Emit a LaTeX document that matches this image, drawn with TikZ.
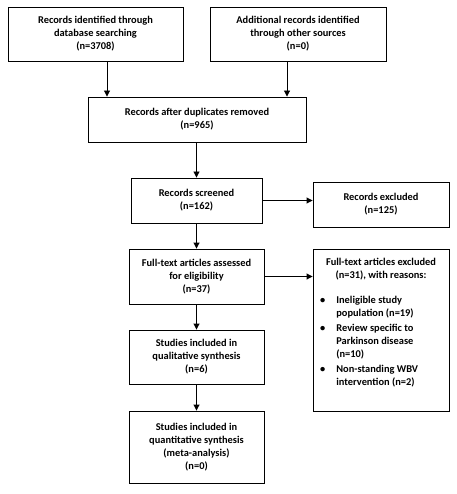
\documentclass[tikz,border=0pt]{standalone}
\usepackage{fontspec}
\setmainfont{Carlito}
\usetikzlibrary{arrows.meta}
\begin{document}
\begin{tikzpicture}[x=1pt,y=-1pt,
  font=\fontsize{10.4}{13}\selectfont\bfseries,
  box/.style={draw, line width=0.9pt, align=center, inner sep=0pt},
  arr/.style={line width=0.9pt, -{Triangle[length=6pt,width=6pt]}}]
\useasboundingbox (0,0) rectangle (456,494);
\node[box, minimum width=175, minimum height=54] (b1) at (95.5,34) {Records identified through\\database searching\\(n=3708)};
\node[box, minimum width=176, minimum height=54] (b2) at (298,34) {Additional records identified\\through other sources\\(n=0)};
\node[box, minimum width=218, minimum height=45] (b3) at (197,119.5) {Records after duplicates removed\\(n=965)};
\node[box, minimum width=131, minimum height=45] (b4) at (196.5,200.5) {Records screened\\(n=162)};
\node[box, minimum width=136, minimum height=45] (b5) at (381,204.5) {Records excluded\\(n=125)};
\node[box, minimum width=135, minimum height=55] (b6) at (196.5,276.5) {Full-text articles assessed\\for eligibility\\(n=37)};
\node[box, minimum width=136, minimum height=162] (b7) at (381,330) {};
\node[box, minimum width=135, minimum height=54] (b8) at (196.5,357) {Studies included in\\qualitative synthesis\\(n=6)};
\node[box, minimum width=135, minimum height=72] (b9) at (196.5,447) {Studies included in\\quantitative synthesis\\(meta-analysis)\\(n=0)};
\node[align=center, inner sep=0pt, anchor=north] (t7) at (381,258) {Full-text articles excluded\\(n=31), with reasons:};
\node[inner sep=0pt, anchor=north west] (l7) at (320,294) {%
\begin{tabular}{@{}l@{\hspace{11pt}}l@{}}
\textbullet & Ineligible study\\
 & population (n=19)\\[2pt]
\textbullet & Review specific to\\
 & Parkinson disease\\
 & (n=10)\\[2pt]
\textbullet & Non-standing WBV\\
 & intervention (n=2)
\end{tabular}};
\coordinate (c1) at (107,0);
\coordinate (c2) at (287,0);
\draw[arr] (b1.south -| c1) -- (b3.north -| c1);
\draw[arr] (b2.south -| c2) -- (b3.north -| c2);
\draw[arr] (b3.south -| b4) -- (b4.north);
\draw[arr] (b4) -- (b4 -| b5.west);
\draw[arr] (b4.south) -- (b6.north);
\draw[arr] (b6) -- (b6 -| b7.west);
\draw[arr] (b6.south) -- (b8.north);
\draw[arr] (b8.south) -- (b9.north);
\end{tikzpicture}
\end{document}
